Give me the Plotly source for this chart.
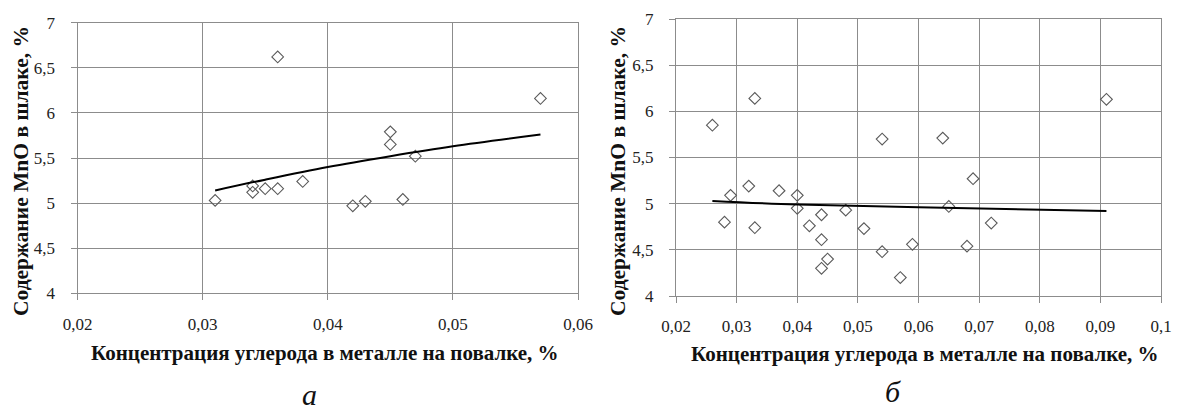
import plotly.graph_objects as go

# ---- data: panel a ----
a_carbon = [0.031, 0.036, 0.034, 0.034, 0.035, 0.036, 0.038, 0.042, 0.043, 0.045, 0.045, 0.046, 0.047, 0.057]
a_mno    = [5.03, 6.62, 5.19, 5.12, 5.16, 5.16, 5.24, 4.97, 5.02, 5.79, 5.65, 5.04, 5.52, 6.16]
a_trend_x = [0.031, 0.035, 0.040, 0.045, 0.050, 0.057]
a_trend_y = [5.14, 5.26, 5.40, 5.52, 5.63, 5.76]

# ---- data: panel б ----
b_carbon = [0.026, 0.033, 0.029, 0.028, 0.032, 0.033, 0.037, 0.040, 0.040, 0.042, 0.044, 0.044,
            0.045, 0.044, 0.048, 0.051, 0.054, 0.054, 0.057, 0.059, 0.064, 0.065, 0.068, 0.069,
            0.072, 0.091]
b_mno    = [5.85, 6.14, 5.09, 4.80, 5.19, 4.74, 5.14, 5.09, 4.95, 4.76, 4.88, 4.61,
            4.40, 4.30, 4.93, 4.73, 5.70, 4.48, 4.20, 4.56, 5.71, 4.97, 4.54, 5.27,
            4.79, 6.13]
b_trend_x = [0.026, 0.040, 0.060, 0.091]
b_trend_y = [5.03, 4.99, 4.96, 4.92]

x_title = "Концентрация углерода в металле на повалке, %"
y_title = "Содержание MnO в шлаке, %"
y_ticks = [4, 4.5, 5, 5.5, 6, 6.5, 7]
y_ticktext = ["4", "4,5", "5", "5,5", "6", "6,5", "7"]
a_xticks = [0.02, 0.03, 0.04, 0.05, 0.06]
a_xticktext = ["0,02", "0,03", "0,04", "0,05", "0,06"]
b_xticks = [0.02, 0.03, 0.04, 0.05, 0.06, 0.07, 0.08, 0.09, 0.1]
b_xticktext = ["0,02", "0,03", "0,04", "0,05", "0,06", "0,07", "0,08", "0,09", "0,1"]

W, H = 1200, 412
OFF = 8  # default page body margin of the written html
FONT = "Liberation Serif"
GRID = "#8c8c8c"
MARK = "#5a5a5a"


def px(x):
    return (x - OFF) / W


def py(y):
    return 1 - (y - OFF) / H


marker = dict(symbol="diamond-open", size=9, color=MARK, line=dict(width=1.1, color=MARK))

fig = go.Figure()
fig.add_trace(go.Scatter(x=a_carbon, y=a_mno, mode="markers", marker=marker,
                         xaxis="x", yaxis="y", showlegend=False))
fig.add_trace(go.Scatter(x=a_trend_x, y=a_trend_y, mode="lines",
                         line=dict(color="black", width=2, shape="spline"),
                         xaxis="x", yaxis="y", showlegend=False))
fig.add_trace(go.Scatter(x=b_carbon, y=b_mno, mode="markers", marker=marker,
                         xaxis="x2", yaxis="y2", showlegend=False))
fig.add_trace(go.Scatter(x=b_trend_x, y=b_trend_y, mode="lines",
                         line=dict(color="black", width=2, shape="spline"),
                         xaxis="x2", yaxis="y2", showlegend=False))


def xax(dom, rng, tv, tt, anchor):
    return dict(domain=dom, range=rng, tickvals=tv, ticktext=tt, anchor=anchor,
                showgrid=True, gridcolor=GRID, gridwidth=1, automargin=False,
                showline=True, linecolor=GRID, linewidth=1, mirror=True,
                ticks="outside", ticklen=6, tickcolor=GRID,
                tickfont=dict(family=FONT, size=17, color="#222"),
                ticklabelstandoff=9, zeroline=False)


def yax(dom, anchor):
    return dict(domain=dom, range=[4, 7], tickvals=y_ticks, ticktext=y_ticktext, anchor=anchor,
                showgrid=True, gridcolor=GRID, gridwidth=1, automargin=False,
                showline=True, linecolor=GRID, linewidth=1, mirror=True,
                ticks="outside", ticklen=6, tickcolor=GRID,
                tickfont=dict(family=FONT, size=17, color="#222"),
                ticklabelstandoff=12, zeroline=False)


fig.update_layout(
    width=W, height=H, margin=dict(l=0, r=0, t=0, b=0, pad=0, autoexpand=False),
    paper_bgcolor="white", plot_bgcolor="white",
    font=dict(family=FONT),
    xaxis=xax([px(77.5), px(578)], [0.02, 0.06], a_xticks, a_xticktext, "y"),
    yaxis=yax([py(293.3), py(22.7)], "x"),
    xaxis2=xax([px(676), px(1161)], [0.02, 0.1], b_xticks, b_xticktext, "y2"),
    yaxis2=yax([py(296), py(19)], "x2"),
)

ann = []
for cx, cy in [(325, 353), (925, 354)]:
    ann.append(dict(text="<b>" + x_title + "</b>", x=px(cx), y=py(cy), xref="paper", yref="paper",
                    showarrow=False, xanchor="center", yanchor="middle",
                    font=dict(family=FONT, size=21, color="#111")))
for cx, cy in [(21, 171), (618, 171)]:
    ann.append(dict(text="<b>" + y_title + "</b>", x=px(cx), y=py(cy), xref="paper", yref="paper",
                    showarrow=False, xanchor="center", yanchor="middle", textangle=-90,
                    font=dict(family=FONT, size=21.5, color="#111")))
for txt, cx, cy in [("а", 309, 394), ("б", 893, 391)]:
    ann.append(dict(text="<i>" + txt + "</i>", x=px(cx), y=py(cy), xref="paper", yref="paper",
                    showarrow=False, xanchor="center", yanchor="middle",
                    font=dict(family=FONT, size=30, color="#111")))
fig.update_layout(annotations=ann)

fig.write_html("out.html")
